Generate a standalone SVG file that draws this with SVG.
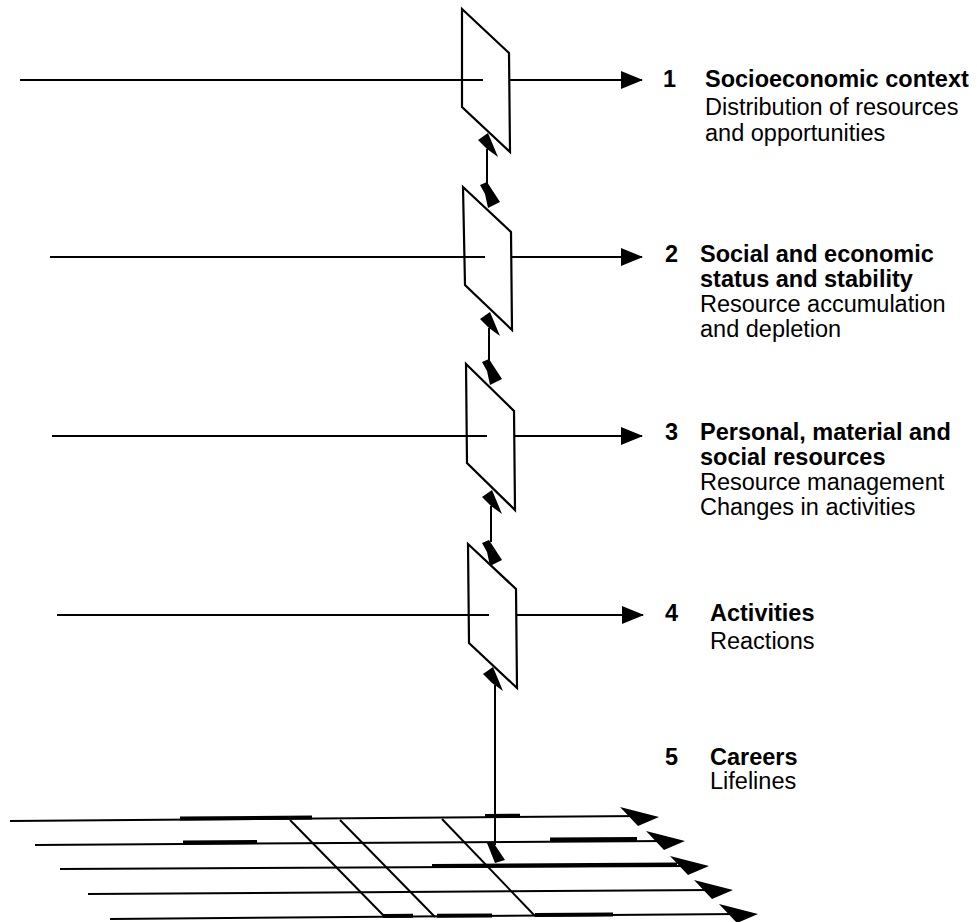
<svg xmlns="http://www.w3.org/2000/svg" width="977" height="922" viewBox="0 0 977 922">
  <style>
    .ln{stroke:#000;stroke-width:2;fill:none}
    .thk{stroke:#000;stroke-width:4;fill:none}
    .pl{fill:none;stroke:#000;stroke-width:2.2;stroke-linejoin:miter}
    .hd{fill:#000;stroke:none}
    .t{font-family:"Liberation Sans",Arial,Helvetica,sans-serif;font-size:23.5px;fill:#000}
    .b{font-weight:bold}
  </style>
  <defs>
    <marker id="arr" viewBox="0 0 22 18" refX="21" refY="9" markerWidth="22" markerHeight="18" markerUnits="userSpaceOnUse" orient="auto">
      <path d="M0,0 L22,9 L0,18 z" fill="#000"/>
    </marker>
    <polygon id="gh" points="-39,-10 0,0 -21,9" class="hd"/>
    <polygon id="uph" points="478,140 488,133 498,157 487,149" class="hd"/>
    <polygon id="dnh" points="480,185 487,182 500,202 488,208 485,194" class="hd"/>
  </defs>
  <rect width="977" height="922" fill="#fff"/>

  <g id="plane1"><polygon class="pl" points="462,9 509,53 510,152 462,107"/></g>
  <g id="plane2"><polygon class="pl" points="463,187 511,232 512,330 465,285"/></g>
  <g id="plane3"><polygon class="pl" points="466,364 514,411 515,510 467,463"/></g>
  <g id="plane4"><polygon class="pl" points="468,544 516,589 517,688 469,643"/></g>

  <g id="connectors">
    <!-- level lines -->
    <line class="ln" x1="20" y1="80" x2="483" y2="80"/>
    <line class="ln" x1="510" y1="80" x2="642" y2="80" marker-end="url(#arr)"/>
    <line class="ln" x1="50" y1="257" x2="485" y2="257"/>
    <line class="ln" x1="512" y1="257" x2="642" y2="257" marker-end="url(#arr)"/>
    <line class="ln" x1="52" y1="436" x2="487" y2="436"/>
    <line class="ln" x1="515" y1="436" x2="642" y2="436" marker-end="url(#arr)"/>
    <line class="ln" x1="57" y1="615" x2="489" y2="615"/>
    <line class="ln" x1="517" y1="615" x2="643" y2="615" marker-end="url(#arr)"/>
    <!-- vertical links between planes -->
    <line class="ln" x1="487" y1="149" x2="487" y2="186"/>
    <use href="#uph"/>
    <use href="#dnh"/>
    <line class="ln" x1="489" y1="328" x2="489" y2="363"/>
    <use href="#uph" transform="translate(2,179)"/>
    <use href="#dnh" transform="translate(2,177)"/>
    <line class="ln" x1="491" y1="506" x2="491" y2="542"/>
    <use href="#uph" transform="translate(4,357)"/>
    <use href="#dnh" transform="translate(2,358)"/>
    <line class="ln" x1="495" y1="685" x2="495" y2="845"/>
    <use href="#uph" transform="translate(5,534)"/>
    <polygon class="hd" points="487,843 493,842 505,860 495,863"/>
  </g>

  <g id="careers-grid">
    <line class="ln" x1="10" y1="821" x2="641" y2="816"/>
    <line class="ln" x1="35" y1="845" x2="666" y2="841"/>
    <line class="ln" x1="60" y1="869" x2="690" y2="866"/>
    <line class="ln" x1="88" y1="894" x2="714" y2="890"/>
    <line class="ln" x1="110" y1="919" x2="739" y2="914"/>
    <line class="thk" x1="180" y1="818.5" x2="312" y2="817.5"/>
    <line class="thk" x1="485" y1="816" x2="520" y2="815.8"/>
    <line class="thk" x1="183" y1="842.5" x2="257" y2="842"/>
    <line class="thk" x1="550" y1="839.5" x2="637" y2="839"/>
    <line class="thk" x1="432" y1="866" x2="677" y2="864.5"/>
    <line class="thk" x1="383" y1="916" x2="413" y2="915.8"/>
    <line class="thk" x1="437" y1="915.7" x2="492" y2="915.4"/>
    <line class="thk" x1="535" y1="915" x2="613" y2="914.4"/>
    <line class="ln" x1="290" y1="820" x2="385" y2="917"/>
    <line class="ln" x1="340" y1="820" x2="435" y2="917"/>
    <line class="ln" x1="442" y1="819" x2="535" y2="916"/>
    <use href="#gh" x="659" y="817"/>
    <use href="#gh" x="685" y="841"/>
    <use href="#gh" x="709" y="866"/>
    <use href="#gh" x="733" y="890"/>
    <use href="#gh" x="758" y="914"/>
  </g>

  <g id="label1" class="t">
    <text x="663" y="87" class="b">1</text>
    <text x="705" y="87" class="b">Socioeconomic context</text>
    <text x="705" y="115">Distribution of resources</text>
    <text x="705" y="141">and opportunities</text>
  </g>
  <g id="label2" class="t">
    <text x="665" y="262" class="b">2</text>
    <text x="700" y="262" class="b">Social and economic</text>
    <text x="700" y="287" class="b">status and stability</text>
    <text x="700" y="312">Resource accumulation</text>
    <text x="700" y="337">and depletion</text>
  </g>
  <g id="label3" class="t">
    <text x="665" y="440" class="b">3</text>
    <text x="700" y="440" class="b">Personal, material and</text>
    <text x="700" y="465" class="b">social resources</text>
    <text x="700" y="490">Resource management</text>
    <text x="700" y="515">Changes in activities</text>
  </g>
  <g id="label4" class="t">
    <text x="665" y="621" class="b">4</text>
    <text x="710" y="621" class="b">Activities</text>
    <text x="710" y="649">Reactions</text>
  </g>
  <g id="label5" class="t">
    <text x="665" y="765" class="b">5</text>
    <text x="710" y="765" class="b">Careers</text>
    <text x="710" y="789">Lifelines</text>
  </g>
</svg>
